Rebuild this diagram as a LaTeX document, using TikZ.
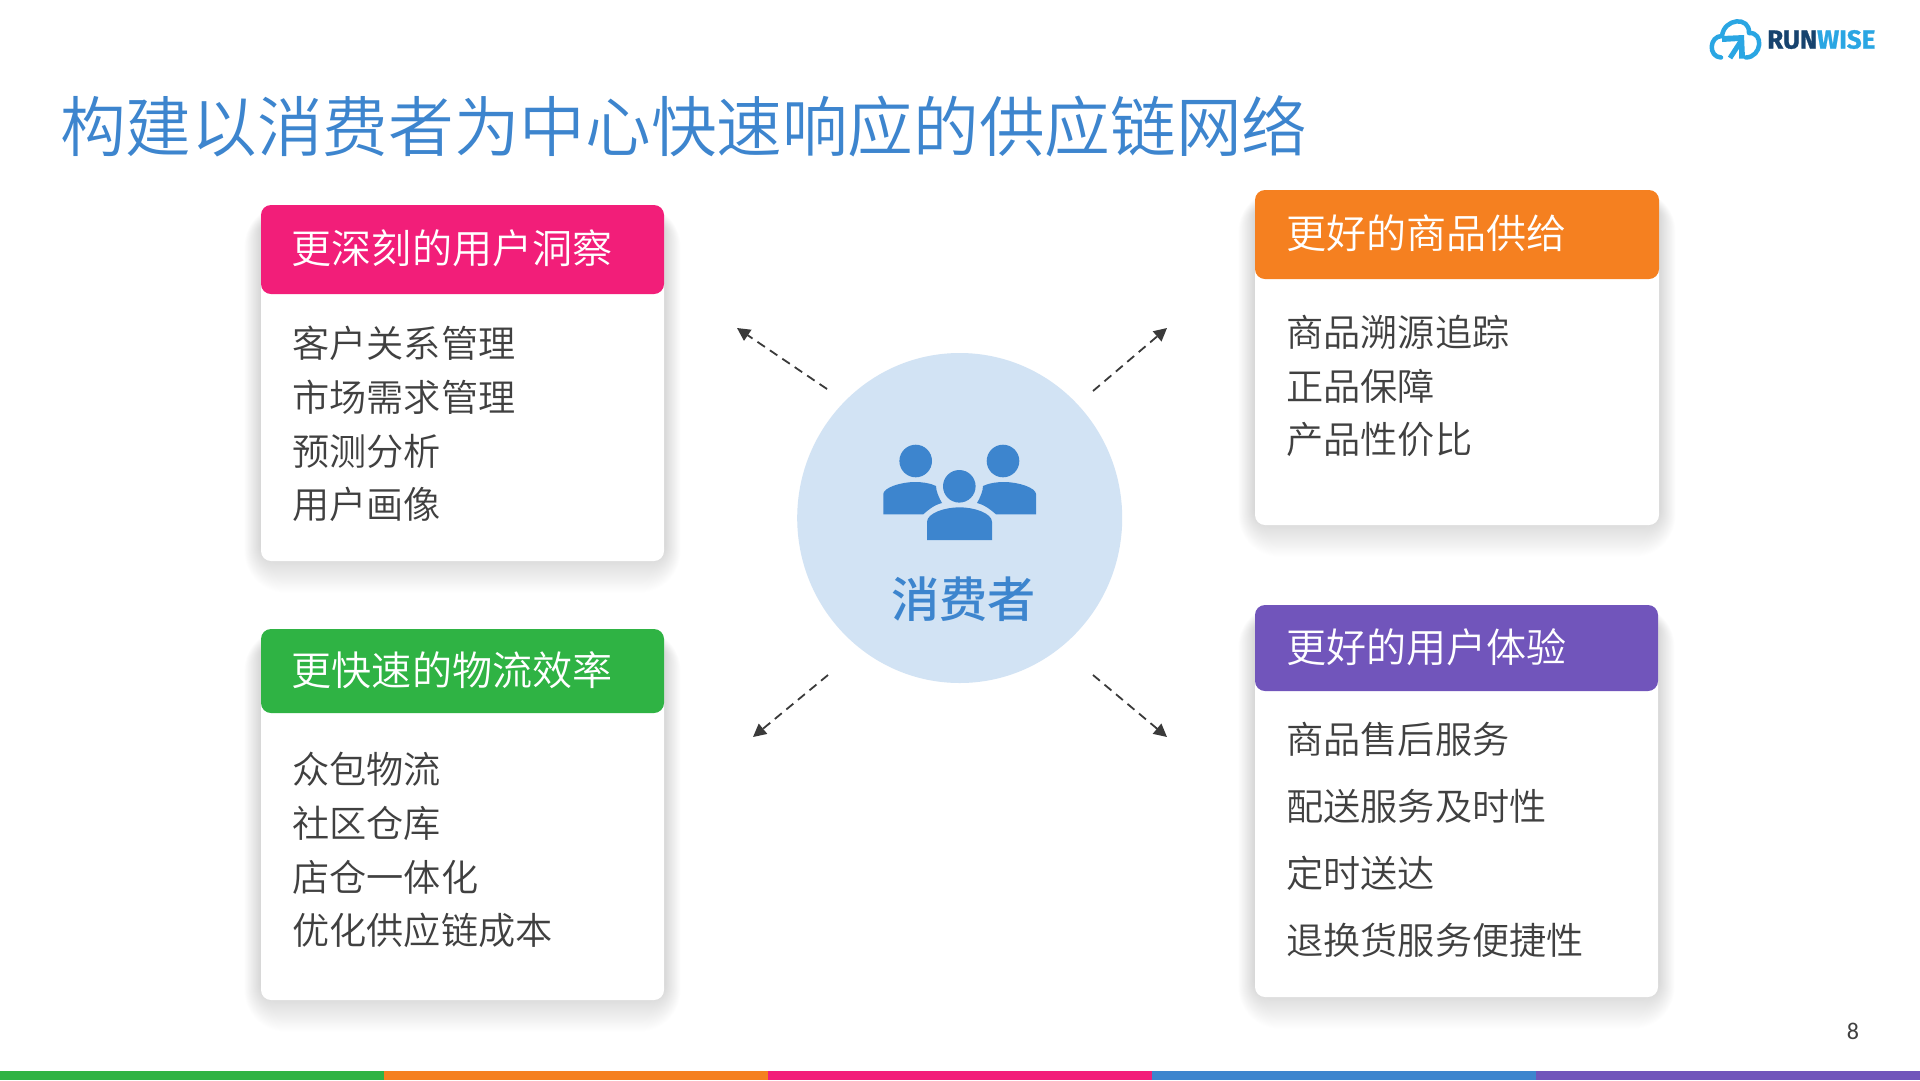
\documentclass[tikz,border=0pt]{standalone}
\usepackage{fontspec}
\setmainfont{Noto Sans CJK SC}[UprightFont=* DemiLight]
\newfontfamily\hubfont{Noto Sans CJK SC}[UprightFont=* Medium]
\newfontfamily\logofont{Fira Sans}[UprightFont=* Bold]
\newfontfamily\numfont{Carlito}
\usetikzlibrary{arrows.meta,shapes.geometric}
\definecolor{cblue}{HTML}{3D85CE}
\definecolor{cpale}{HTML}{D2E3F4}
\definecolor{cgreen}{HTML}{2FB344}
\definecolor{corange}{HTML}{F58020}
\definecolor{cpink}{HTML}{F21E79}
\definecolor{cpurple}{HTML}{7155BB}
\definecolor{ctext}{HTML}{404040}
\definecolor{cnavy}{HTML}{17436E}
\definecolor{csky}{HTML}{2AA6E3}
\tikzset{
  headtext/.style={anchor=west,text=white,font=\fontsize{40.1}{41}\selectfont,inner sep=0pt},
  itemtext/.style={anchor=west,text=ctext,font=\fontsize{37.2}{38}\selectfont,inner sep=0pt},
  flow/.style={draw=ctext!90!black,line width=1.8pt,dash pattern=on 9pt off 6pt,-{Triangle[length=13pt,width=13pt]}},
}
\newcommand{\softshadow}[4]{% x1 y1 x2 y2
  \foreach \g in {40,39,...,1}{
    \pgfmathsetmacro{\rr}{10+\g*0.8}
    \fill[black,opacity=0.0032,rounded corners=\rr pt]
      (#1-\g*0.42,#2+16-\g*0.4) rectangle (#3+\g*0.42,#4-6+\g*0.95);
  }
}
\newcommand{\card}[6]{% x1 ytop yhead x2 ybot colour
  \softshadow{#1}{#2}{#4}{#5}
  \fill[white,rounded corners=10pt] (#1,#2) rectangle (#4,#5);
  \fill[#6,rounded corners=10pt] (#1,#2) rectangle (#4,#3);
}
\begin{document}
\begin{tikzpicture}[x=1pt,y=-1pt]
\useasboundingbox (0,0) rectangle (1920,1080);
\fill[white] (0,0) rectangle (1920,1080);

% bottom strip
\fill[cgreen]  (0,1071) rectangle (384,1080);
\fill[corange] (384,1071) rectangle (768,1080);
\fill[cpink]   (768,1071) rectangle (1152,1080);
\fill[cblue]   (1152,1071) rectangle (1536,1080);
\fill[cpurple] (1536,1071) rectangle (1920,1080);

% title
\node[anchor=west,text=cblue,inner sep=0pt,font=\fontsize{65.65}{66}\selectfont] (title) at (60,126) {构建以消费者为中心快速响应的供应链网络};

% cards
\card{261}{205}{294}{664}{561}{cpink}
\node[headtext] (h1) at (291.5,248) {更深刻的用户洞察};
\node[itemtext] (a1) at (292,343) {客户关系管理};
\node[itemtext] (a2) at (292,397) {市场需求管理};
\node[itemtext] (a3) at (292,451) {预测分析};
\node[itemtext] (a4) at (292,504) {用户画像};

\card{1255}{190}{279}{1659}{525}{corange}
\node[headtext] (h2) at (1286,233) {更好的商品供给};
\node[itemtext] (b1) at (1286,332) {商品溯源追踪};
\node[itemtext] (b2) at (1286,386) {正品保障};
\node[itemtext] (b3) at (1286,439.5) {产品性价比};

\card{261}{629}{713}{664}{1000}{cgreen}
\node[headtext] (h3) at (291.5,670) {更快速的物流效率};
\node[itemtext] (c1) at (292,769) {众包物流};
\node[itemtext] (c2) at (292,823) {社区仓库};
\node[itemtext] (c3) at (292,877) {店仓一体化};
\node[itemtext] (c4) at (292,930) {优化供应链成本};

\card{1255}{605}{691}{1658}{997}{cpurple}
\node[headtext] (h4) at (1286,647) {更好的用户体验};
\node[itemtext] (d1) at (1286,739) {商品售后服务};
\node[itemtext] (d2) at (1286,806) {配送服务及时性};
\node[itemtext] (d3) at (1286,873) {定时送达};
\node[itemtext] (d4) at (1286,940) {退换货服务便捷性};

% centre
\node[ellipse,fill=cpale,draw=none,minimum width=325pt,minimum height=330pt,inner sep=0pt] (hub) at (959.7,518) {};
\fill[cblue] (915.7,461) circle (16.3pt);
\fill[cblue] (1003,461) circle (16.3pt);
\fill[cblue] (959.3,486.3) circle (16.3pt);
% left body
\fill[cblue] (883.3,514.3) -- (883.3,494) .. controls (883.3,488) and (900,482) .. (915,482)
  .. controls (922,482) and (930,483) .. (936,486) .. controls (936,491) and (939,498) .. (942,503)
  .. controls (934,505) and (928,510) .. (923.3,514.3) -- cycle;
% right body
\fill[cblue] (1036,514.3) -- (1036,494) .. controls (1036,488) and (1019,482) .. (1004,482)
  .. controls (997,482) and (989,483) .. (983,486) .. controls (983,491) and (980,498) .. (977,503)
  .. controls (985,505) and (991,510) .. (996,514.3) -- cycle;
% front body
\fill[cblue] (927,540) -- (927,522) .. controls (927,513) and (945,507.3) .. (959.5,507.3)
  .. controls (974,507.3) and (992,513) .. (992,522) -- (992,540) -- cycle;
\node[text=cblue,inner sep=0pt,font=\hubfont\fontsize{48.2}{49}\selectfont] (hubtext) at (963.5,599) {消费者};

% connectors
\coordinate (ulS) at (827,389); \coordinate (ulE) at (737,328);
\coordinate (urS) at (1093,391); \coordinate (urE) at (1167,328);
\coordinate (llS) at (828,675); \coordinate (llE) at (753,737);
\coordinate (lrS) at (1093,675); \coordinate (lrE) at (1167,737);
\draw[flow] (ulS) -- (ulE);
\draw[flow] (urS) -- (urE);
\draw[flow] (llS) -- (llE);
\draw[flow] (lrS) -- (lrE);

% page number
\node[text=ctext,inner sep=0pt,font=\numfont\fontsize{24}{24}\selectfont] (pg) at (1853,1031) {8};

% logo
\node[anchor=west,inner sep=0pt,font=\logofont\fontsize{26}{26}\selectfont\addfontfeature{FakeBold=1}] (logo) at (1767,39.5) {\textcolor{cnavy}{RUN}\textcolor{csky}{WISE}};
\draw[csky,line width=4.5pt,line cap=round,line join=round]
  (1721,57.5) .. controls (1708,57) and (1709,36) .. (1722,36)
  .. controls (1724,18) and (1750,16) .. (1749,33)
  .. controls (1764,32) and (1762,57) .. (1746,57.5);
\draw[csky,line width=5pt] (1730,58) -- (1741,41);
\fill[csky] (1722,36) -- (1744,35) -- (1745,58.5) -- (1739,58.5) -- (1739,41) -- (1722,42) -- cycle;
\end{tikzpicture}
\end{document}
